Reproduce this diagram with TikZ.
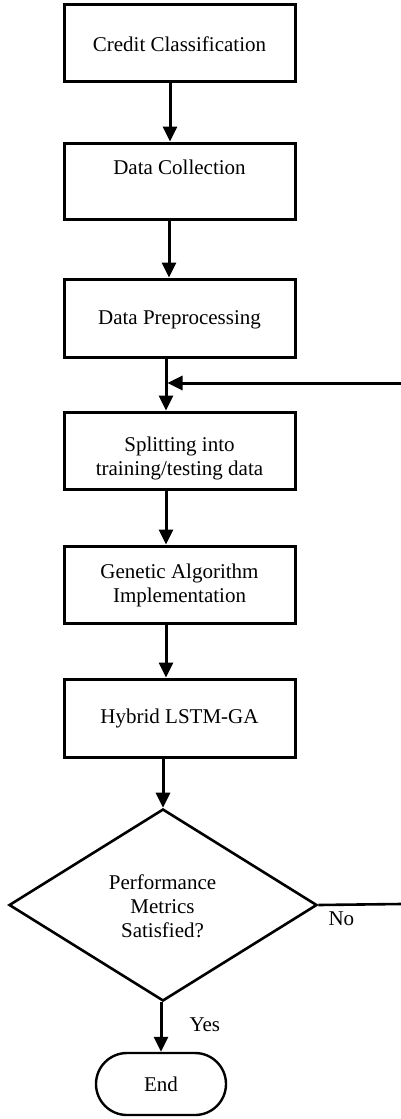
\documentclass[tikz,border=0pt]{standalone}
\usepackage{fontspec}
\setmainfont{Liberation Serif}
\usetikzlibrary{arrows.meta,shapes.geometric,shapes.misc}
\begin{document}
\begin{tikzpicture}[x=1pt,y=-1pt,
  font=\fontsize{21}{24}\selectfont,
  procbox/.style={draw,line width=3pt,minimum width=231pt,inner sep=0pt,align=center},
  decision/.style={draw,diamond,line width=2.6pt,inner sep=0pt,minimum width=308pt,minimum height=192pt,aspect=1.6,align=center},
  terminal/.style={draw,rounded rectangle,line width=2.4pt,minimum width=130pt,minimum height=62pt,inner sep=0pt},
  flow/.style={line width=3pt,-{Triangle[length=15pt,width=14pt]}},
  plainline/.style={line width=2.6pt}]
\useasboundingbox (0,0) rectangle (401,1119);

% process steps
\node[procbox,minimum height=77pt] (b1) at (179.5,42.5) {};
\node (t1) at (179.5,44) {Credit Classification};
\node[procbox,minimum height=76pt] (b2) at (179.5,181) {};
\node (t2) at (179.5,167) {Data Collection};
\node[procbox,minimum height=78pt] (b3) at (179.5,318) {};
\node (t3) at (179.5,320) {Data Preprocessing};
\node[procbox,minimum height=77pt] (b4) at (179.5,450.5) {};
\node[align=center] (t4) at (179.5,458) {Splitting into\\training/testing data};
\node[procbox,minimum height=77pt] (b5) at (179.5,584.5) {};
\node[align=center] (t5) at (179.5,585) {Genetic Algorithm\\Implementation};
\node[procbox,minimum height=78pt] (b6) at (179.5,718) {};
\node (t6) at (179.5,718) {Hybrid LSTM-GA};

% decision and end
\node[decision] (d) at (163,905) {};
\node[align=center] (td) at (162.5,906) {Performance\\Metrics\\Satisfied?};
\node[terminal] (e) at (161,1084) {End};

% connectors
\draw[flow] ([xshift=-9.5pt]b1.south) -- ([xshift=-9.5pt]b2.north);
\draw[flow] ([xshift=-10.5pt]b2.south) -- ([xshift=-10.5pt]b3.north);
\draw[flow] ([xshift=-13.5pt]b3.south) -- ([xshift=-13.5pt]b4.north);
\draw[flow] ([xshift=-13.5pt]b4.south) -- ([xshift=-13.5pt]b5.north);
\draw[flow] ([xshift=-13.5pt]b5.south) -- ([xshift=-13.5pt]b6.north);
\draw[flow] ([xshift=-16.5pt]b6.south) -- (d.north);
\draw[flow] ([xshift=-2pt]d.south) -- (e.north);

% loop back from the "No" branch
\coordinate (fbin) at (401,383);
\coordinate (fbout) at (401,904);
\draw[flow] (fbin) -- ([xshift=-12pt]b3.south |- fbin);
\draw[plainline] (d.east) -- (fbout);
\node[anchor=west] (no) at (325,919) {No};
\node[anchor=west] (yes) at (186,1025) {Yes};
\end{tikzpicture}
\end{document}
